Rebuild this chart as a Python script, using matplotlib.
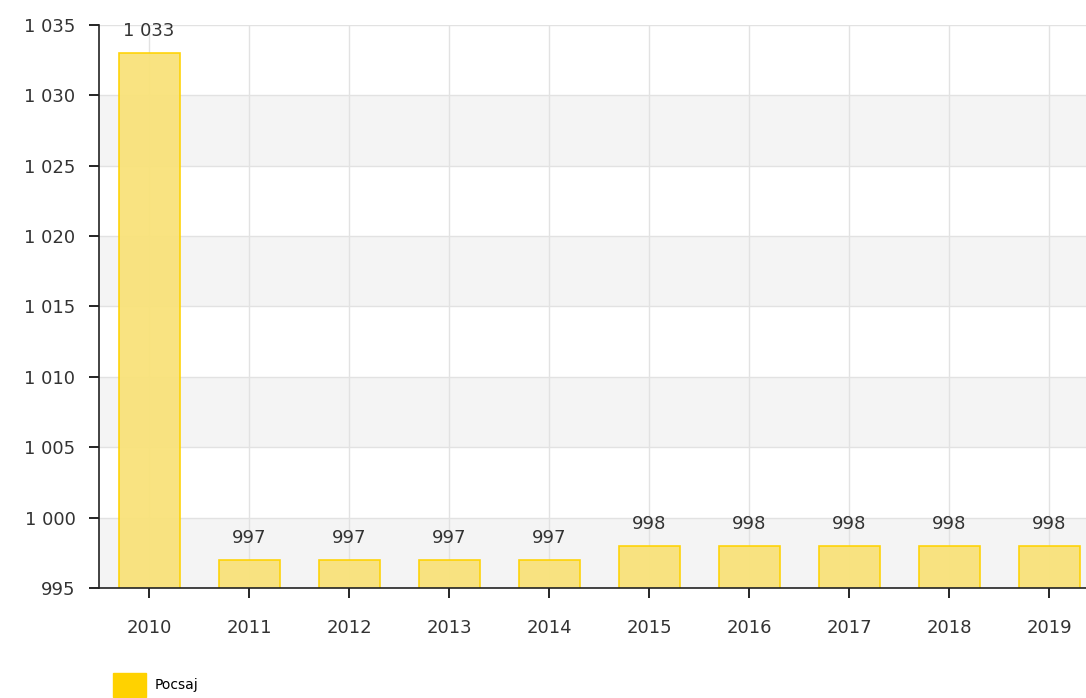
import matplotlib
matplotlib.use('Agg')
import matplotlib.pyplot as plt
from matplotlib.patches import Patch

years = ['2010', '2011', '2012', '2013', '2014', '2015', '2016', '2017', '2018', '2019']
values = [1033, 997, 997, 997, 997, 998, 998, 998, 998, 998]
series_name = 'Pocsaj'
y_ticks = [995, 1000, 1005, 1010, 1015, 1020, 1025, 1030, 1035]


def fmt(v):
    return '{:,}'.format(v).replace(',', ' ')


fig = plt.figure(figsize=(10.86, 6.98), dpi=100)
ax = fig.add_axes([99/1086, 110/698, 1 - 99/1086, (588 - 25)/698])

# alternating bands
for i in range(len(y_ticks) - 1):
    if i % 2 == 0:
        ax.axhspan(y_ticks[i], y_ticks[i+1], color='#f4f4f4', zorder=0, lw=0)

x = list(range(len(years)))
bars = ax.bar(x, values, width=0.61, bottom=0, color='#f9e27a', edgecolor='#ffd200',
              linewidth=1.2, zorder=2, alpha=0.95)
ax.set_ylim(995, 1035)
ax.set_xlim(-0.5, 9.37)

for xi, v in zip(x, values):
    ax.annotate(fmt(v), (xi, v), xytext=(0, 9.5), textcoords='offset points',
                ha='center', va='bottom', fontsize=13, color='#333333', zorder=4,
                annotation_clip=False)

ax.set_yticks(y_ticks)
ax.set_yticklabels([fmt(t) for t in y_ticks])
ax.set_xticks(x)
ax.set_xticklabels(years)
ax.grid(True, color='#e2e2e2', lw=1, zorder=1)
ax.set_axisbelow(True)

for s in ['top', 'right']:
    ax.spines[s].set_visible(False)
for s in ['left', 'bottom']:
    ax.spines[s].set_color('#222222')
    ax.spines[s].set_linewidth(1.2)
    ax.spines[s].set_zorder(5)

ax.tick_params(axis='y', length=7, width=1.2, pad=10, labelsize=13, labelcolor='#333333')
ax.tick_params(axis='x', length=7, width=1.2, pad=15, labelsize=13, labelcolor='#333333')

fig.legend(handles=[Patch(facecolor='#ffd200', edgecolor='#ffd200', label=series_name)],
           loc='lower left', bbox_to_anchor=(100/1086, -11/698), frameon=False,
           fontsize=10, handlelength=2.4, handleheight=2.2, handletextpad=0.6)

fig.savefig('out.png', dpi=100)
